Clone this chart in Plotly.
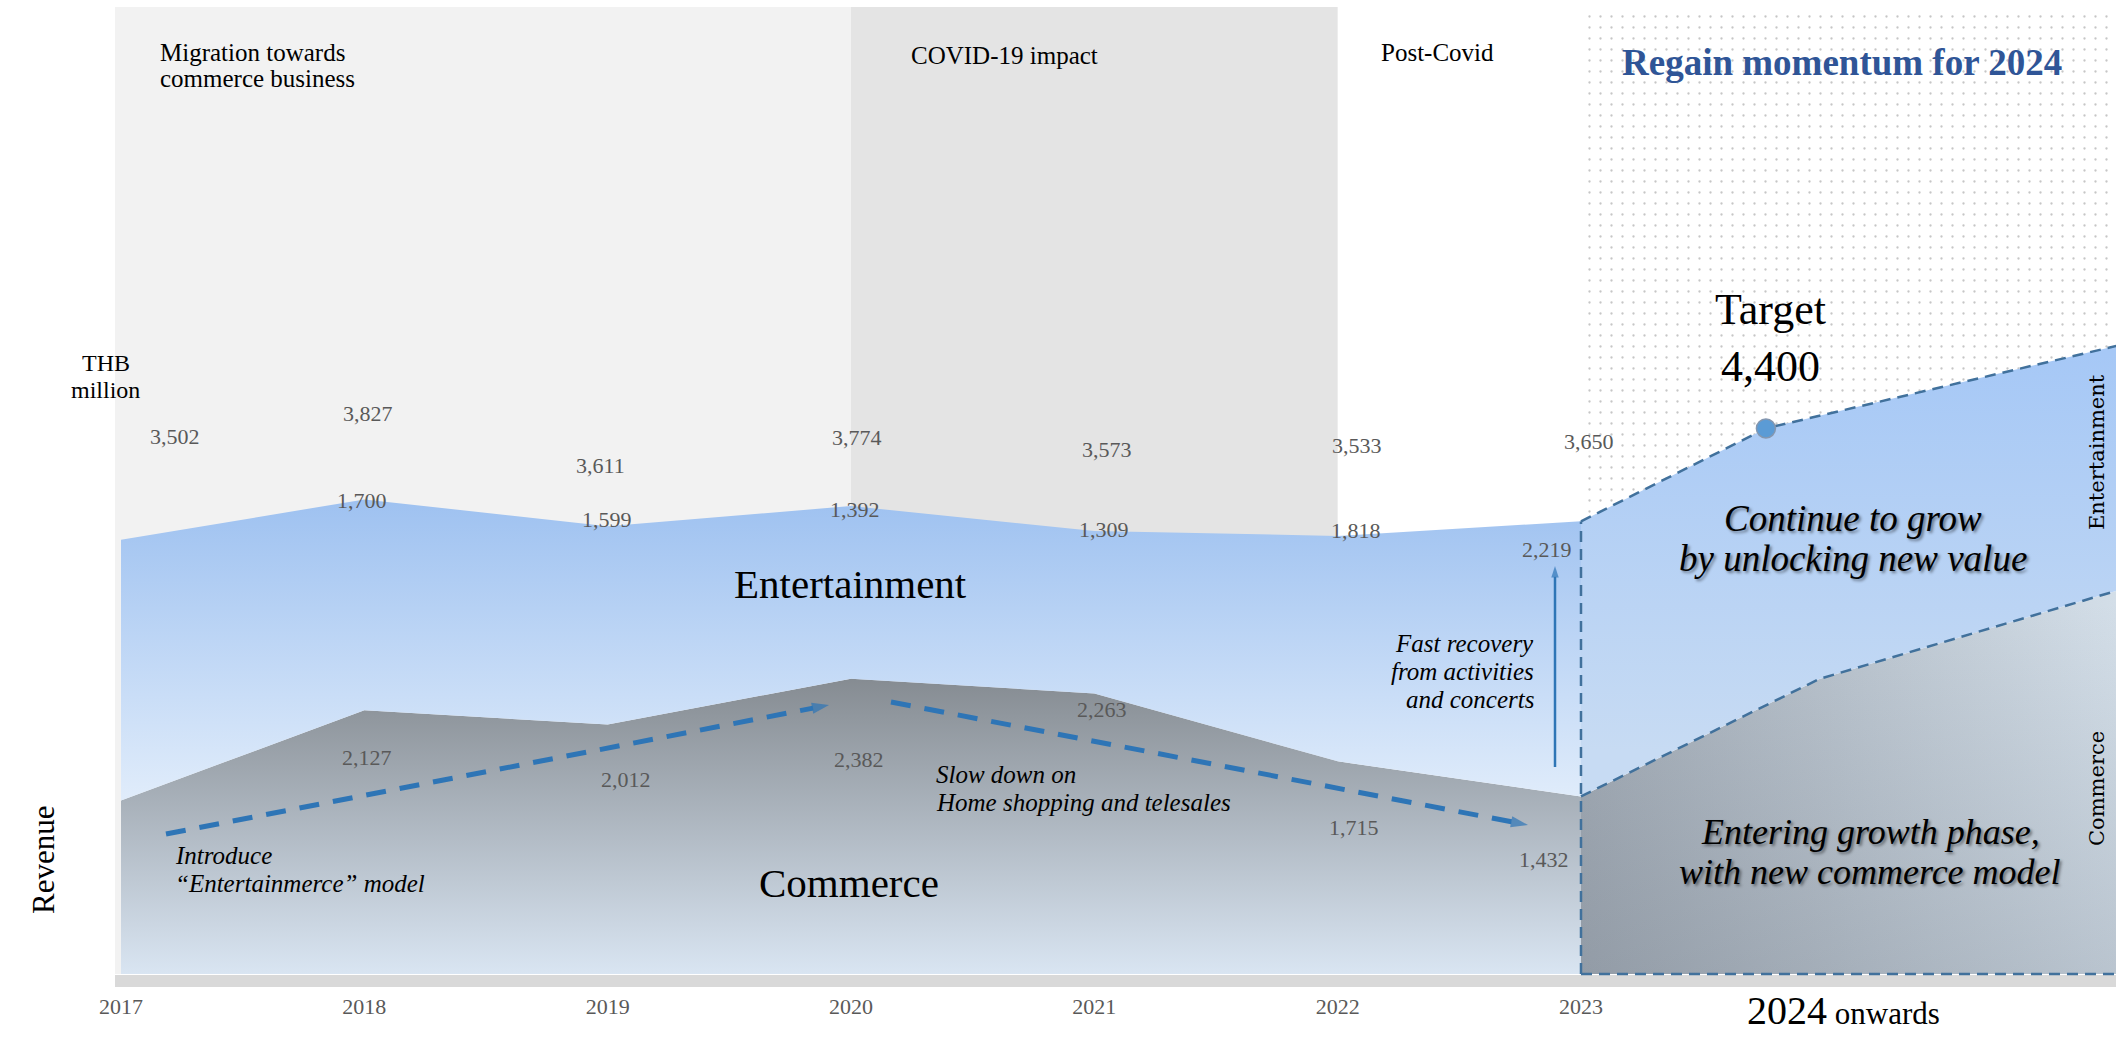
import plotly.graph_objects as go

# ---------------- data ----------------
years = [2017, 2018, 2019, 2020, 2021, 2022, 2023]
year_labels = ["2017", "2018", "2019", "2020", "2021", "2022", "2023"]
commerce = [1400, 2127, 2012, 2382, 2263, 1715, 1432]          # 2017 estimated (unlabelled)
entertainment = [2102, 1700, 1599, 1392, 1309, 1818, 2219]     # 2017 estimated (unlabelled)
totals = [3502, 3827, 3611, 3774, 3573, 3533, 3650]
segment_labelled = [False, True, True, True, True, True, True]

# illustrative projection "2024 onwards"
future_total_x = [2023, 2023.76, 2025.2]
future_total = [3650, 4400, 5065]
future_commerce_x = [2023, 2023.98, 2025.2]
future_commerce = [1432, 2380, 3090]
target_year = 2023.76
target_value = 4400

# ---------------- geometry helpers ----------------
W, H = 2116, 1038
X_LEFT = 2016.5027
PX_PER_YEAR = 243.33
BASE_PX = 974
PX_PER_UNIT = 0.124


def px2x(px):
    return X_LEFT + px / PX_PER_YEAR


def px2y(py):
    return (BASE_PX - py) / PX_PER_UNIT


x_range = [px2x(0), px2x(W)]
y_range = [px2y(H), px2y(0)]
top_val = px2y(7)
stack = [c + e for c, e in zip(commerce, entertainment)]

SERIF = "Liberation Serif"
NUM_COLOR = "#595959"
BLUE = "#2e75b6"
OUTLINE = "#41719c"

fig = go.Figure()

# dotted "2024" region
fig.add_trace(go.Scatter(
    x=[2023, x_range[1] + 0.1, x_range[1] + 0.1, 2023, 2023],
    y=[0, 0, top_val, top_val, 0],
    mode="lines", fill="toself", fillcolor="white",
    fillpattern=dict(shape=".", fgcolor="#c6c6c6", bgcolor="white", size=11, solidity=0.035),
    line=dict(width=0), hoverinfo="skip"))

# historical stacked areas
fig.add_trace(go.Scatter(
    x=years, y=commerce, mode="lines", fill="tozeroy", line=dict(width=0),
    fillgradient=dict(type="vertical", colorscale=[[0, "#d9e5f2"], [1, "#83898f"]], start=0, stop=2450),
    hoverinfo="skip"))
fig.add_trace(go.Scatter(
    x=years, y=stack, mode="lines", fill="tonexty", line=dict(width=0),
    fillgradient=dict(type="vertical", colorscale=[[0, "#e3eefb"], [1, "#9cc0f0"]], start=1300, stop=3900),
    hoverinfo="skip"))

# future areas
fig.add_trace(go.Scatter(
    x=future_commerce_x, y=future_commerce, mode="lines", fill="tozeroy", line=dict(width=0),
    fillgradient=dict(type="horizontal", colorscale=[[0, "#a3acb6"], [1, "#d3dee8"]], start=2023, stop=2025.2),
    hoverinfo="skip"))
fig.add_trace(go.Scatter(
    x=future_commerce_x, y=future_commerce, mode="lines", fill="tozeroy", line=dict(width=0),
    fillgradient=dict(type="vertical", colorscale=[[0, "rgba(70,80,95,0.18)"], [1, "rgba(70,80,95,0)"]],
                      start=0, stop=3000),
    hoverinfo="skip"))
fig.add_trace(go.Scatter(
    x=future_total_x, y=future_total, mode="lines", fill="tonexty", line=dict(width=0),
    fillgradient=dict(type="vertical", colorscale=[[0, "#c7dbf3"], [1, "#a6c8f6"]], start=1800, stop=5000),
    hoverinfo="skip"))

# dashed outlines of the projection
dash_line = dict(color=OUTLINE, width=2.5, dash="11px,7px")
fig.add_trace(go.Scatter(x=future_total_x, y=future_total, mode="lines", line=dash_line, hoverinfo="skip"))
fig.add_trace(go.Scatter(x=future_commerce_x, y=future_commerce, mode="lines", line=dash_line, hoverinfo="skip"))
fig.add_trace(go.Scatter(x=[2023, 2023], y=[0, future_total[0]], mode="lines", line=dash_line, hoverinfo="skip"))
fig.add_trace(go.Scatter(x=[2023, x_range[1] + 0.1], y=[0, 0], mode="lines", line=dash_line, hoverinfo="skip"))

# target marker
fig.add_trace(go.Scatter(
    x=[target_year], y=[target_value], mode="markers",
    marker=dict(size=19, color="#5b9bd5", line=dict(color="#8497b0", width=1.5)), hoverinfo="skip"))

# trend arrows (dashed)
for (x0, y0, x1, y1) in [(166, 834, 829, 705), (891, 702, 1528, 825)]:
    fig.add_trace(go.Scatter(
        x=[px2x(x0), px2x(x1)], y=[px2y(y0), px2y(y1)], mode="lines+markers",
        line=dict(color=BLUE, width=5, dash="20px,14px"),
        marker=dict(symbol="arrow", angleref="previous", size=[0, 18], color=BLUE, line=dict(width=0)),
        hoverinfo="skip"))

# recovery arrow (solid)
fig.add_trace(go.Scatter(
    x=[px2x(1555), px2x(1555)], y=[px2y(767), px2y(566)], mode="lines+markers",
    line=dict(color=BLUE, width=2.5),
    marker=dict(symbol="arrow", angleref="previous", size=[0, 12], color=BLUE, line=dict(width=0)),
    hoverinfo="skip"))

# background panels & axis band
shapes = [
    dict(type="rect", xref="x", yref="y", x0=px2x(115), x1=2020, y0=0, y1=top_val,
         fillcolor="#f2f2f2", line=dict(width=0), layer="below"),
    dict(type="rect", xref="x", yref="y", x0=2020, x1=2022, y0=0, y1=top_val,
         fillcolor="#e4e4e4", line=dict(width=0), layer="below"),
    dict(type="rect", xref="x", yref="y", x0=px2x(115), x1=x_range[1] + 0.1, y0=px2y(987), y1=px2y(975),
         fillcolor="#d9d9d9", line=dict(width=0), layer="below"),
]

annotations = []

# value labels
total_dx = [54, 4, -7, 6, 13, 19, 8]
total_dy = [103, 86, 61, 69, 82, 90, 80]
ent_dx = [0, -2, -1, 4, 10, 18, -34]
ent_dy = [0, -1, 7, -3, 2, 5, -28]
com_dx = [0, 3, 18, 8, 8, 16, -37]
com_dy = [0, -47, -55, -81, -16, -66, -63]
num_font = dict(family=SERIF, size=22, color=NUM_COLOR)
for i, yr in enumerate(years):
    annotations.append(dict(x=yr, y=stack[i], xref="x", yref="y", text=f"{totals[i]:,}", showarrow=False,
                            xshift=total_dx[i], yshift=total_dy[i], font=num_font))
    if segment_labelled[i]:
        annotations.append(dict(x=yr, y=stack[i], xref="x", yref="y", text=f"{entertainment[i]:,}",
                                showarrow=False, xshift=ent_dx[i], yshift=ent_dy[i], font=num_font))
        annotations.append(dict(x=yr, y=commerce[i], xref="x", yref="y", text=f"{commerce[i]:,}",
                                showarrow=False, xshift=com_dx[i], yshift=com_dy[i], font=num_font))


def label(text, px, py, size, anchor="center", color="black", style="normal", weight="normal",
          family=SERIF, angle=0, shadow=None):
    f = dict(family=family, size=size, color=color, style=style, weight=weight)
    if shadow:
        f["shadow"] = shadow
    annotations.append(dict(x=px2x(px), y=px2y(py), xref="x", yref="y", text=text, showarrow=False,
                            xanchor=anchor, yanchor="middle", font=f, textangle=angle))


SH = "2px 2px 3px rgba(0,0,0,0.45)"
label("Migration towards", 158, 52, 25, anchor="left")
label("commerce business", 158, 78, 25, anchor="left")
label("COVID-19 impact", 909, 55, 25, anchor="left")
label("Post-Covid", 1379, 52, 25, anchor="left")
label("Regain momentum for 2024", 1842, 62, 37, color="#2f5597", weight="bold")
label("Target", 1770, 309, 44)
label(f"{target_value:,}", 1770, 366, 44)
label("Continue to grow", 1853, 518, 37, style="italic", shadow=SH)
label("by unlocking new value", 1853, 558, 37, style="italic", shadow=SH)
label("Entering growth phase,", 1870, 832, 36, style="italic", shadow=SH)
label("with new commerce model", 1870, 872, 36, style="italic", shadow=SH)
label("Entertainment", 850, 584, 41)
label("Commerce", 849, 883, 41)
label("Introduce", 173, 855, 25, anchor="left", style="italic")
label("\u201cEntertainmerce\u201d model", 173, 883, 25, anchor="left", style="italic")
label("Slow down on", 934, 774, 25, anchor="left", style="italic")
label("Home shopping and telesales", 934, 802, 25, anchor="left", style="italic")
label("Fast recovery", 1536, 643, 25, anchor="right", style="italic")
label("from activities", 1536, 671, 25, anchor="right", style="italic")
label("and concerts", 1536, 699, 25, anchor="right", style="italic")
label("THB", 106, 363, 24)
label("million", 105, 390, 24)
label("Revenue", 43, 860, 31, angle=-90)
label("Entertainment", 2097, 452, 21, family="DejaVu Serif", angle=-90)
label("Commerce", 2097, 789, 21, family="DejaVu Serif", angle=-90)
label("<span style='font-size:40px'>2024</span> onwards", 1843, 1010, 31)

fig.update_layout(
    template="none",
    width=W, height=H,
    margin=dict(l=0, r=0, t=0, b=0, pad=0),
    paper_bgcolor="white", plot_bgcolor="white",
    showlegend=False,
    shapes=shapes,
    annotations=annotations,
    xaxis=dict(range=x_range, anchor="free", position=(-y_range[0]) / (y_range[1] - y_range[0]),
               tickvals=years, ticktext=year_labels, showgrid=False, zeroline=False, showline=False,
               ticks="", ticklabelstandoff=17, automargin=False,
               tickfont=dict(family=SERIF, size=22, color=NUM_COLOR), fixedrange=True),
    yaxis=dict(range=y_range, visible=False, showgrid=False, zeroline=False, automargin=False,
               fixedrange=True),
)

fig.write_html("out.html")
